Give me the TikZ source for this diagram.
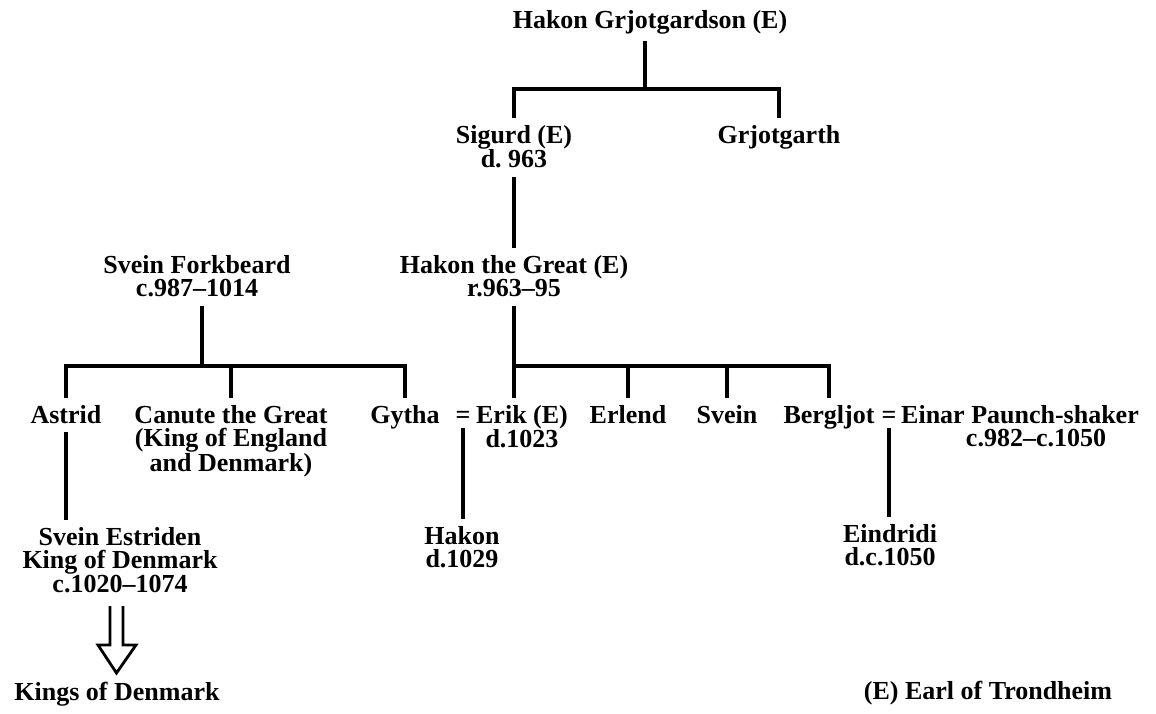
\documentclass[tikz,border=0pt]{standalone}
\usepackage{fontspec}
\setmainfont{Liberation Serif}
\usetikzlibrary{calc}
\newcommand{\toprl}{\rule{0pt}{18pt}}
\newcommand{\botrl}{\rule[-2pt]{0pt}{2pt}}
\begin{document}
\begin{tikzpicture}[x=1pt,y=-1pt,
  person/.style={font=\fontsize{26}{23.5}\selectfont\bfseries, align=center,
    inner sep=0pt, outer xsep=0pt, outer ysep=7pt, anchor=north},
  eqsign/.style={font=\fontsize{26}{23.5}\selectfont\bfseries, inner sep=0pt, anchor=base},
  link/.style={line width=3.3pt, line join=miter},
  hollowarrow/.style={line width=2.8pt, line join=miter}]
\fill[white] (0,0) rectangle (1156,714);
\useasboundingbox (0,0) rectangle (1156,714);

% generation 1
\node[person] (hg) at (650,3) {\toprl Hakon Grjotgardson (E)\botrl};
% generation 2
\node[person] (sigurd) at (514,118) {\toprl Sigurd (E)\\d.\ 963\botrl};
\node[person] (grj) at (779,118) {\toprl Grjotgarth\botrl};
% generation 3
\node[person] (sf) at (197,248) {\toprl Svein Forkbeard\\c.987--1014\botrl};
\node[person] (htg) at (514,248) {\toprl Hakon the Great (E)\\r.963--95\botrl};
% generation 4
\node[person] (astrid) at (66,398) {\toprl Astrid\botrl};
\node[person] (canute) at (231,398) {\toprl Canute the Great\\(King of England\\and Denmark)\botrl};
\node[person] (gytha) at (405,398) {\toprl Gytha\botrl};
\node[eqsign] (eq1) at (463,423) {=};
\node[person] (erik) at (522,398) {\toprl Erik (E)\\d.1023\botrl};
\node[person] (erlend) at (628,398) {\toprl Erlend\botrl};
\node[person] (svein) at (727,398) {\toprl Svein\botrl};
\node[person] (bergljot) at (829,398) {\toprl Bergljot\botrl};
\node[eqsign] (eq2) at (889,423) {=};
\node[person] (einar) at (1020,398) {\toprl Einar Paunch-shaker\\\hspace*{32pt}c.982--c.1050\botrl};
% generation 5
\node[person] (se) at (120,520) {\toprl Svein Estriden\\King of Denmark\\c.1020--1074\botrl};
\node[person] (hakon2) at (462,519) {\toprl Hakon\\d.1029\botrl};
\node[person] (eindridi) at (890,517) {\toprl Eindridi\\d.c.1050\botrl};
% bottom
\node[person] (kod) at (117,675) {\toprl Kings of Denmark\botrl};
\node[person] (earl) at (988,674) {\toprl (E) Earl of Trondheim\botrl};

% junctions
\coordinate (J1) at (645,89);
\coordinate (J2) at (514,366);
\coordinate (J3) at (202,366);

\draw[link] (J1 |- hg.south) -- (J1);
\draw[link] (sigurd.north) |- (J1) -| (grj.north);
\draw[link] (sigurd.south) -- (htg.north);
\draw[link] (htg.south) -- (J2);
\draw[link] (J2) -- (erik.north -| J2);
\draw[link] (J2) -| (erlend.north);
\draw[link] (J2) -| (svein.north);
\draw[link] (J2) -| (bergljot.north);
\draw[link] (J3 |- sf.south) -- (J3);
\draw[link] (J3) -| (astrid.north);
\draw[link] (J3) -| (canute.north);
\draw[link] (J3) -| (gytha.north);
\draw[link] (astrid.south) -- (astrid.south |- se.north);
\draw[link] ($(eq1.base)+(0,5)$) -- (eq1.base |- hakon2.north);
\draw[link] ($(eq2.base)+(0,5)$) -- (eq2.base |- eindridi.north);

% hollow descent arrow
\coordinate (atop) at (116.5,606);
\coordinate (atip) at (116.5,673);
\draw[hollowarrow] ($(atop)+(-6.5,0)$) -- ($(atop)+(-6.5,39)$) -- ($(atop)+(-18.5,39)$)
  -- (atip) -- ($(atop)+(19.5,39)$) -- ($(atop)+(6.5,39)$) -- ($(atop)+(6.5,0)$);
\end{tikzpicture}
\end{document}
